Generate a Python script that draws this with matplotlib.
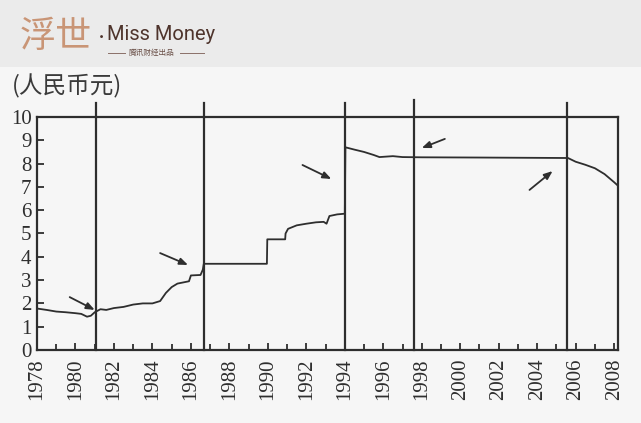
import matplotlib.pyplot as plt
from matplotlib.patches import Rectangle
from matplotlib.lines import Line2D

# RMB per USD (jumps use repeated x values)
years = [1978.0, 1978.5, 1979.0, 1979.5, 1980.0, 1980.3, 1980.6, 1980.8, 1981.0,
         1981.3, 1981.6, 1982.0, 1982.5, 1983.0, 1983.5, 1984.0, 1984.4, 1984.7,
         1985.0, 1985.3, 1985.6, 1985.9, 1986.0, 1986.5, 1986.62, 1986.67,
         1989.95, 1989.97, 1990.9, 1990.92, 1991.05, 1991.5, 1992.0, 1992.5,
         1992.9, 1993.05, 1993.2, 1993.6, 1994.0, 1994.03, 1994.5, 1995.0,
         1995.5, 1995.8, 1996.5, 1997.0, 1998.0, 2001.0, 2005.6, 2006.0,
         2006.5, 2007.0, 2007.5, 2008.0, 2008.2]
rates = [1.78, 1.72, 1.65, 1.62, 1.58, 1.55, 1.43, 1.47, 1.62,
         1.75, 1.72, 1.80, 1.85, 1.95, 2.00, 2.00, 2.10, 2.45,
         2.70, 2.85, 2.90, 2.95, 3.20, 3.22, 3.45, 3.70,
         3.70, 4.75, 4.75, 5.00, 5.20, 5.35, 5.42, 5.48,
         5.50, 5.42, 5.75, 5.82, 5.85, 8.70, 8.60, 8.50,
         8.37, 8.28, 8.32, 8.28, 8.27, 8.26, 8.24, 8.08,
         7.95, 7.80, 7.55, 7.20, 7.05]

# reform dates marked by vertical lines
events = [1981.05, 1986.67, 1994.03, 1997.6, 2005.55]
event_tops = [10.6, 10.6, 10.6, 10.75, 10.6]

# arrows: (tail, head) in data units
arrow_tails = [(1979.7, 2.27), (1984.4, 4.16), (1991.8, 7.94), (1999.2, 9.06), (2003.6, 6.87)]
arrow_heads = [(1981.0, 1.72), (1985.85, 3.65), (1993.3, 7.34), (1998.0, 8.67), (2004.8, 7.68)]

ink = '#2e2e2e'
paper = '#f6f6f6'

fig = plt.figure(figsize=(6.41, 4.23), dpi=100, facecolor=paper)

# header band with logo
fig.patches.append(Rectangle((0, 356 / 423), 1, 67 / 423, transform=fig.transFigure,
                             facecolor='#ebebeb', edgecolor='none', zorder=0))
fig.text(20 / 641, 1 - 37 / 423, '浮世', family=['Noto Sans CJK SC'], fontweight='light',
         fontsize=26, color='#c99576', va='center', ha='left')
fig.text(99 / 641, 1 - 36 / 423, '·', family=['Lato'], fontsize=14, color='#4e342c',
         va='center', ha='left')
fig.text(107 / 641, 1 - 35 / 423, 'Miss Money', family=['Roboto'], fontweight='normal',
         fontsize=14.5, color='#4e342c', va='center', ha='left')
fig.text(152 / 641, 1 - 53 / 423, '腾讯财经出品', family=['Noto Sans CJK SC'], fontsize=5.5,
         color='#6b5048', va='center', ha='center')
for x0, x1 in [(108, 125), (180, 204)]:
    fig.add_artist(Line2D([x0 / 641, x1 / 641], [1 - 53 / 423, 1 - 53 / 423],
                          transform=fig.transFigure, color='#8a7068', lw=0.7))

ax = fig.add_axes([37 / 641, 73 / 423, 581 / 641, 233 / 423], facecolor=paper)
ax.plot(years, rates, color=ink, lw=1.3)

for x, top in zip(events, event_tops):
    ax.plot([x, x], [0, top], color=ink, lw=1.6, clip_on=False)

for tail, head in zip(arrow_tails, arrow_heads):
    ax.annotate('', xy=head, xytext=tail,
                arrowprops=dict(arrowstyle='-|>,head_length=0.5,head_width=0.2',
                                color=ink, lw=1.3, shrinkA=0, shrinkB=0))

ax.set_xlim(1978, 2008.2)
ax.set_ylim(0, 10)
ax.set_xticks(range(1978, 2009, 2))
ax.set_xticks(range(1978, 2009), minor=True)
ax.set_yticks(range(0, 11))
for s in ax.spines.values():
    s.set_color(ink)
    s.set_linewidth(1.6)

ax.tick_params(axis='both', which='both', direction='in', color=ink, width=1.3)
ax.tick_params(axis='x', which='major', length=5, pad=6)
ax.tick_params(axis='x', which='minor', length=4)
ax.tick_params(axis='y', length=5, pad=4)

for lab in ax.get_xticklabels():
    lab.set_rotation(90)
    lab.set_family('Liberation Serif')
    lab.set_fontsize(15)
    lab.set_color(ink)
for lab in ax.get_yticklabels():
    lab.set_family('Liberation Serif')
    lab.set_fontsize(15)
    lab.set_color(ink)

fig.text(12 / 641, 1 - 86 / 423, '(人民币元)', family=['Noto Sans CJK SC'], fontsize=17,
         color='#3a3a3a', va='center', ha='left')

fig.savefig('out.png', dpi=100, facecolor=paper)
